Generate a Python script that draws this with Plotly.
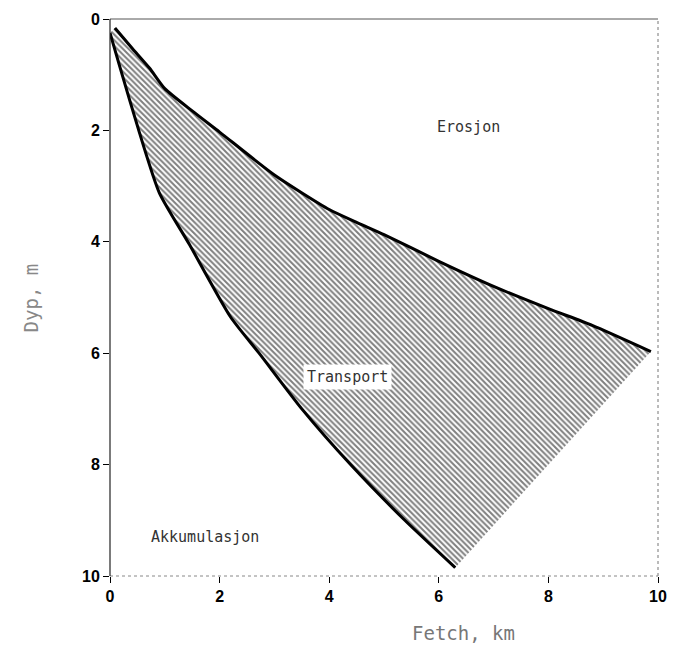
import plotly.graph_objects as go

# Boundary between erosion and transport (upper curve)
upper_x = [0.09, 0.4, 0.72, 1.0, 1.5, 2.0, 3.0, 4.0, 4.5, 5.0, 6.0, 7.0, 8.0, 8.8, 9.87]
upper_y = [0.16, 0.52, 0.88, 1.25, 1.65, 2.03, 2.8, 3.42, 3.65, 3.87, 4.35, 4.8, 5.2, 5.5, 5.97]

# Boundary between transport and accumulation (lower curve)
lower_x = [0.0, 0.18, 0.54, 0.9, 1.45, 2.2, 2.72, 3.5, 4.39, 5.38, 6.3]
lower_y = [0.25, 0.86, 2.05, 3.12, 4.05, 5.35, 6.0, 7.0, 8.0, 9.0, 9.85]

tick_vals = [0, 2, 4, 6, 8, 10]
tick_text = ["0", "2", "4", "6", "8", "10"]

zone_labels = ["Erosjon", "Transport", "Akkumulasjon"]
zone_x = [6.54, 4.34, 1.74]
zone_y = [1.94, 6.43, 9.3]

poly_x = upper_x + lower_x[::-1]
poly_y = upper_y + lower_y[::-1]

fig = go.Figure()
fig.add_trace(go.Scatter(
    x=poly_x, y=poly_y, fill="toself", mode="lines",
    line=dict(width=0, color="rgba(0,0,0,0)"),
    fillcolor="white",
    fillpattern=dict(shape="\\", fgcolor="black", bgcolor="white", size=4, solidity=0.5),
    hoverinfo="skip", showlegend=False))
fig.add_trace(go.Scatter(x=upper_x, y=upper_y, mode="lines",
                         line=dict(color="black", width=3, shape="spline", smoothing=0.6),
                         showlegend=False))
fig.add_trace(go.Scatter(x=lower_x, y=lower_y, mode="lines",
                         line=dict(color="black", width=3, shape="spline", smoothing=0.6),
                         showlegend=False))

mono = "DejaVu Sans Mono"
for lab, xx, yy in zip(zone_labels, zone_x, zone_y):
    fig.add_annotation(x=xx, y=yy, text=lab, showarrow=False,
                       font=dict(family=mono, size=15, color="#333"),
                       bgcolor="white" if lab == "Transport" else None,
                       borderpad=3)

fig.add_annotation(x=0.645, y=-0.125, xref="paper", yref="paper", text="Fetch, km",
                   showarrow=False, font=dict(family=mono, size=19, color="#777"))
fig.add_annotation(x=-0.168, y=0.50, xref="paper", yref="paper", text="Dyp, m",
                   textangle=-90, showarrow=False,
                   font=dict(family=mono, size=19, color="#888"))

# frame
fig.add_shape(type="line", xref="paper", yref="paper", x0=0, x1=1, y0=1, y1=1,
              line=dict(color="#555", width=1))
fig.add_shape(type="line", xref="paper", yref="paper", x0=1, x1=1, y0=0, y1=1,
              line=dict(color="#777", width=1, dash="dot"))
fig.add_shape(type="line", xref="paper", yref="paper", x0=0, x1=1, y0=0, y1=0,
              line=dict(color="#888", width=1, dash="dot"))
fig.add_shape(type="line", xref="paper", yref="paper", x0=0, x1=0, y0=0, y1=1,
              line=dict(color="#222", width=1.2))

fig.update_xaxes(range=[0, 10], tickvals=tick_vals, ticktext=tick_text,
                 showgrid=False, zeroline=False, showline=False, automargin=False,
                 ticks="outside", ticklen=6, tickcolor="black",
                 tickfont=dict(family="Liberation Sans", size=16, color="black", weight="bold"))
fig.update_yaxes(range=[10, 0], tickvals=tick_vals, ticktext=tick_text,
                 showgrid=False, zeroline=False, showline=False, automargin=False,
                 ticks="outside", ticklen=6, tickcolor="black",
                 tickfont=dict(family="Liberation Sans", size=16, color="black", weight="bold"))

fig.update_layout(width=659, height=655, margin=dict(l=102, r=9, t=11, b=87),
                  plot_bgcolor="white", paper_bgcolor="white")

fig.write_html("out.html")
